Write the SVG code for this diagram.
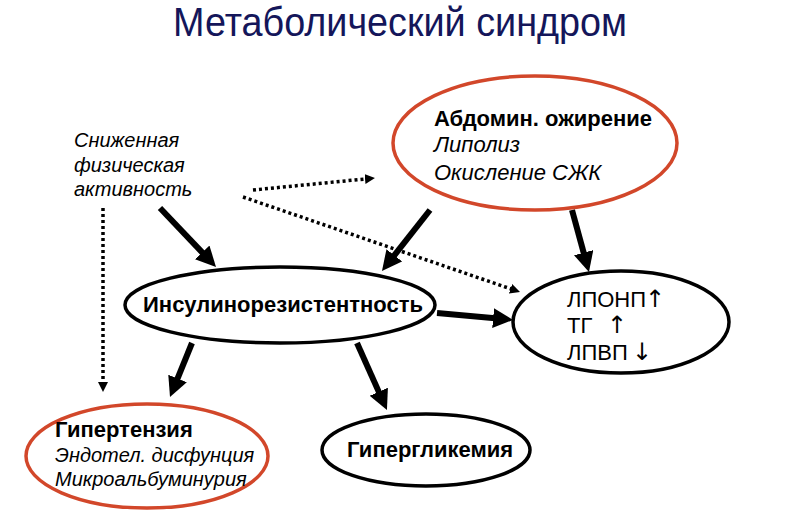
<svg xmlns="http://www.w3.org/2000/svg" width="800" height="522" viewBox="0 0 800 522">
<style>
.t{font-family:"Liberation Sans",Arial,sans-serif;fill:#000}
.b{font-weight:bold;font-size:22px}
.i{font-style:italic;font-size:22px}
.i2{font-style:italic;font-size:20px}
.r{font-size:22px}
.ar{font-family:"DejaVu Sans",sans-serif;font-size:24px;fill:#000}
.red{fill:#fff;stroke:#d2472a;stroke-width:3.5}
.blk{fill:#fff;stroke:#000;stroke-width:3.5}
.thick{stroke:#000;stroke-width:6;fill:none}
.dot{stroke:#000;stroke-width:3.5;stroke-dasharray:3 3;fill:none}
</style>
<defs>
<marker id="ah" markerUnits="userSpaceOnUse" markerWidth="22" markerHeight="22" refX="2" refY="10" orient="auto">
<path d="M0,0 L20,10 L0,20 z" fill="#000"/>
</marker>
<marker id="ahs" markerUnits="userSpaceOnUse" markerWidth="12" markerHeight="12" refX="1" refY="5" orient="auto">
<path d="M0,0 L10,5 L0,10 z" fill="#000"/>
</marker>
</defs>
<rect width="800" height="522" fill="#fff"/>
<text x="400" y="36" text-anchor="middle" textLength="454" lengthAdjust="spacingAndGlyphs" style="font-family:'Liberation Sans',Arial,sans-serif;font-size:40px;fill:#14165a">Метаболический синдром</text>

<g id="connectors">
<line class="thick" x1="160" y1="208" x2="203.6" y2="253.9" marker-end="url(#ah)"/>
<line class="thick" x1="430" y1="210" x2="393.1" y2="256.9" marker-end="url(#ah)"/>
<line class="thick" x1="572" y1="210" x2="584.2" y2="254.6" marker-end="url(#ah)"/>
<line class="thick" x1="437" y1="313" x2="495.1" y2="318.3" marker-end="url(#ah)"/>
<line class="thick" x1="192" y1="343" x2="176.8" y2="380.3" marker-end="url(#ah)"/>
<line class="thick" x1="357" y1="343" x2="379.6" y2="393.6" marker-end="url(#ah)"/>
<line class="dot" x1="253" y1="190" x2="366" y2="178.9" marker-end="url(#ahs)"/>
<line class="dot" x1="243" y1="197" x2="511.5" y2="289.1" marker-end="url(#ahs)"/>
<line class="dot" x1="103" y1="208" x2="103" y2="383" marker-end="url(#ahs)"/>
</g>

<g id="activity">
<text class="t i2" x="74" y="147">Сниженная</text>
<text class="t i2" x="74" y="172">физическая</text>
<text class="t i2" x="74" y="196">активность</text>
</g>

<g id="abdominal">
<ellipse class="red" cx="535" cy="143" rx="142" ry="67"/>
<text class="t b" x="434" y="126">Абдомин. ожирение</text>
<text class="t i" x="434" y="152">Липолиз</text>
<text class="t i" x="434" y="180">Окисление СЖК</text>
</g>

<g id="insulin">
<ellipse class="blk" cx="280" cy="305" rx="155" ry="38"/>
<text class="t b" x="283" y="312" text-anchor="middle">Инсулинорезистентность</text>
</g>

<g id="lipids">
<ellipse class="blk" cx="621" cy="322" rx="108" ry="51"/>
<text class="t r" x="567" y="307">ЛПОНП<tspan class="ar" x="645">↑</tspan></text>
<text class="t r" x="567" y="333">ТГ<tspan class="ar" x="607">↑</tspan></text>
<text class="t r" x="567" y="360">ЛПВП<tspan class="ar" x="632">↓</tspan></text>
</g>

<g id="hypertension">
<ellipse class="red" cx="147" cy="456" rx="121" ry="52"/>
<text class="t b" x="55" y="437">Гипертензия</text>
<text class="t i2" x="55" y="462">Эндотел. дисфунция</text>
<text class="t i2" x="55" y="486">Микроальбуминурия</text>
</g>

<g id="hyperglycemia">
<ellipse class="blk" cx="426" cy="450" rx="104" ry="36"/>
<text class="t b" x="430" y="457" text-anchor="middle">Гипергликемия</text>
</g>
</svg>
